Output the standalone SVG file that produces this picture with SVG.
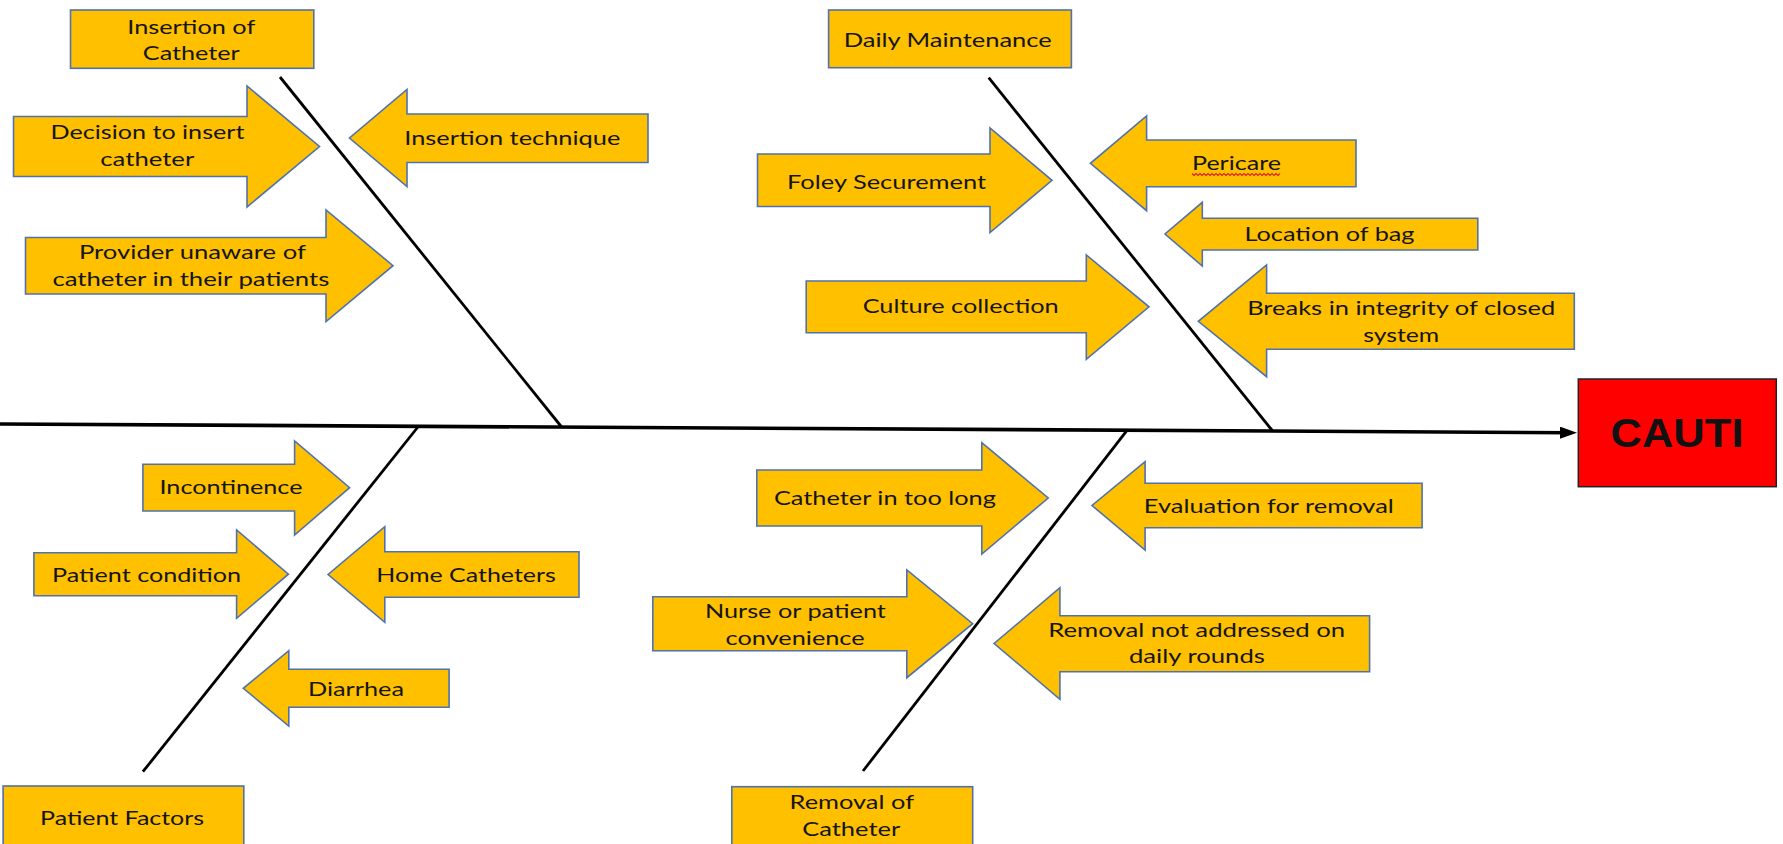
<svg xmlns="http://www.w3.org/2000/svg" width="1783" height="844" viewBox="0 0 1783 844">
<defs>
<style>
.box,.arr{fill:#FFC000;stroke:#4F72AD;stroke-width:1.6}
.head{fill:#FF0000;stroke:#222;stroke-width:1.5}
.t{font-family:Lato,"Open Sans",sans-serif;font-size:20px;fill:#151515;text-anchor:middle}
.big{font-family:"Liberation Sans",Arial,sans-serif;font-weight:bold;font-size:40px;fill:#111;text-anchor:middle}
.bone{stroke:#000;stroke-width:2.8;fill:none}
.spine{stroke:#000;stroke-width:3.6;fill:none}
.wave{stroke:#E02020;stroke-width:1.1;fill:none}
</style>
<marker id="ah" markerUnits="userSpaceOnUse" viewBox="0 0 17 12" markerWidth="17" markerHeight="12" refX="9" refY="6" orient="auto">
<path d="M0,0 L17,6 L0,12 z" fill="#000"/>
</marker>
</defs>
<rect width="1783" height="844" fill="#fff"/>

<g id="connectors">
<line class="spine" x1="0" y1="424" x2="1569" y2="432.7" marker-end="url(#ah)"/>
<line class="bone" x1="280" y1="77" x2="561.6" y2="427"/>
<line class="bone" x1="988.7" y1="77.7" x2="1272.7" y2="431"/>
<line class="bone" x1="418.3" y1="426.5" x2="142.9" y2="771.7"/>
<line class="bone" x1="1127.2" y1="430.2" x2="863" y2="771"/>
</g>

<g id="insertion-of-catheter">
<rect class="box" x="70.5" y="10" width="243.3" height="58.3"/>
<text class="t" x="191.3" y="33.5" textLength="128" lengthAdjust="spacingAndGlyphs">Insertion of</text>
<text class="t" x="191.3" y="60" textLength="97" lengthAdjust="spacingAndGlyphs">Catheter</text>
</g>

<g id="decision-to-insert">
<polygon class="arr" points="13.5,116.5 247,116.5 247,86 319.5,146.5 247,207 247,176.5 13.5,176.5"/>
<text class="t" x="147.5" y="139.3" textLength="194" lengthAdjust="spacingAndGlyphs">Decision to insert</text>
<text class="t" x="147.3" y="166" textLength="94" lengthAdjust="spacingAndGlyphs">catheter</text>
</g>

<g id="insertion-technique">
<polygon class="arr" points="648,114 407,114 407,89.5 349.5,138 407,186.5 407,162.5 648,162.5"/>
<text class="t" x="512.3" y="145" textLength="216" lengthAdjust="spacingAndGlyphs">Insertion technique</text>
</g>

<g id="provider-unaware">
<polygon class="arr" points="25.5,237.5 326,237.5 326,210 393,265.7 326,321.5 326,294 25.5,294"/>
<text class="t" x="192.4" y="259.3" textLength="227" lengthAdjust="spacingAndGlyphs">Provider unaware of</text>
<text class="t" x="190.9" y="286" textLength="277" lengthAdjust="spacingAndGlyphs">catheter in their patients</text>
</g>

<g id="daily-maintenance">
<rect class="box" x="828.6" y="10" width="242.8" height="57.7"/>
<text class="t" x="947.7" y="46.7" textLength="208" lengthAdjust="spacingAndGlyphs">Daily Maintenance</text>
</g>

<g id="foley-securement">
<polygon class="arr" points="757.5,154 990,154 990,128 1052,180.3 990,232.5 990,206.5 757.5,206.5"/>
<text class="t" x="886.6" y="189" textLength="199" lengthAdjust="spacingAndGlyphs">Foley Securement</text>
</g>

<g id="pericare">
<polygon class="arr" points="1356,140 1146.6,140 1146.6,116 1090.4,163.3 1146.6,210.7 1146.6,186.7 1356,186.7"/>
<text class="t" x="1236.5" y="170" textLength="89" lengthAdjust="spacingAndGlyphs">Pericare</text>
<path class="wave" d="M1192,173.5 l2,2 l2,-2 l2,2 l2,-2 l2,2 l2,-2 l2,2 l2,-2 l2,2 l2,-2 l2,2 l2,-2 l2,2 l2,-2 l2,2 l2,-2 l2,2 l2,-2 l2,2 l2,-2 l2,2 l2,-2 l2,2 l2,-2 l2,2 l2,-2 l2,2 l2,-2 l2,2 l2,-2 l2,2 l2,-2 l2,2 l2,-2 l2,2 l2,-2 l2,2 l2,-2 l2,2 l2,-2 l2,2 l2,-2 l2,2 l2,-2"/>
</g>

<g id="location-of-bag">
<polygon class="arr" points="1477.8,218.3 1202.3,218.3 1202.3,202.3 1165,234 1202.3,266 1202.3,250 1477.8,250"/>
<text class="t" x="1329.5" y="241" textLength="170" lengthAdjust="spacingAndGlyphs">Location of bag</text>
</g>

<g id="culture-collection">
<polygon class="arr" points="806.2,281 1086.3,281 1086.3,255 1149,306.8 1086.3,359.3 1086.3,332.7 806.2,332.7"/>
<text class="t" x="960.7" y="313.3" textLength="196" lengthAdjust="spacingAndGlyphs">Culture collection</text>
</g>

<g id="breaks-in-integrity">
<polygon class="arr" points="1574.3,293.3 1266.6,293.3 1266.6,265 1198.3,321.3 1266.6,376.7 1266.6,349.3 1574.3,349.3"/>
<text class="t" x="1401.2" y="315.3" textLength="308" lengthAdjust="spacingAndGlyphs">Breaks in integrity of closed</text>
<text class="t" x="1401.2" y="342" textLength="76" lengthAdjust="spacingAndGlyphs">system</text>
</g>

<g id="cauti">
<rect class="head" x="1578.3" y="379" width="198" height="107.7"/>
<text class="big" x="1677" y="447" textLength="133" lengthAdjust="spacingAndGlyphs">CAUTI</text>
</g>

<g id="incontinence">
<polygon class="arr" points="142.9,464.3 294.6,464.3 294.6,441 349.6,487.7 294.6,535 294.6,511 142.9,511"/>
<text class="t" x="231" y="494.3" textLength="143" lengthAdjust="spacingAndGlyphs">Incontinence</text>
</g>

<g id="patient-condition">
<polygon class="arr" points="33.9,552.7 236.6,552.7 236.6,530 288.4,574.2 236.6,618.3 236.6,595.7 33.9,595.7"/>
<text class="t" x="146.6" y="582.3" textLength="189" lengthAdjust="spacingAndGlyphs">Patient condition</text>
</g>

<g id="home-catheters">
<polygon class="arr" points="579,551.7 384.8,551.7 384.8,526.7 328.1,574.5 384.8,622.3 384.8,597.3 579,597.3"/>
<text class="t" x="466" y="582.3" textLength="179.5" lengthAdjust="spacingAndGlyphs">Home Catheters</text>
</g>

<g id="diarrhea">
<polygon class="arr" points="449.1,669.3 288.8,669.3 288.8,650.7 243.3,688.3 288.8,726 288.8,707.3 449.1,707.3"/>
<text class="t" x="356" y="695.7" textLength="96" lengthAdjust="spacingAndGlyphs">Diarrhea</text>
</g>

<g id="patient-factors">
<rect class="box" x="3.1" y="786" width="240.7" height="70"/>
<text class="t" x="122.1" y="825" textLength="164" lengthAdjust="spacingAndGlyphs">Patient Factors</text>
</g>

<g id="catheter-in-too-long">
<polygon class="arr" points="756.8,470 981.8,470 981.8,442.7 1048.2,498 981.8,554 981.8,526 756.8,526"/>
<text class="t" x="884.9" y="505.3" textLength="222" lengthAdjust="spacingAndGlyphs">Catheter in too long</text>
</g>

<g id="evaluation-for-removal">
<polygon class="arr" points="1422.1,483.3 1145.1,483.3 1145.1,461.7 1092,505.5 1145.1,550 1145.1,527.7 1422.1,527.7"/>
<text class="t" x="1268.8" y="513.3" textLength="250" lengthAdjust="spacingAndGlyphs">Evaluation for removal</text>
</g>

<g id="nurse-or-patient-convenience">
<polygon class="arr" points="652.8,596.7 906.8,596.7 906.8,570 972.7,623.7 906.8,677.7 906.8,650.7 652.8,650.7"/>
<text class="t" x="795.4" y="618.3" textLength="181" lengthAdjust="spacingAndGlyphs">Nurse or patient</text>
<text class="t" x="795.1" y="645" textLength="139" lengthAdjust="spacingAndGlyphs">convenience</text>
</g>

<g id="removal-not-addressed">
<polygon class="arr" points="1369.6,615.7 1059.9,615.7 1059.9,587.7 994.1,643.5 1059.9,699.3 1059.9,671.7 1369.6,671.7"/>
<text class="t" x="1196.7" y="636.7" textLength="297" lengthAdjust="spacingAndGlyphs">Removal not addressed on</text>
<text class="t" x="1196.9" y="663.3" textLength="136" lengthAdjust="spacingAndGlyphs">daily rounds</text>
</g>

<g id="removal-of-catheter">
<rect class="box" x="731.8" y="786.7" width="240.9" height="70"/>
<text class="t" x="851.8" y="809.3" textLength="124.5" lengthAdjust="spacingAndGlyphs">Removal of</text>
<text class="t" x="851.2" y="836" textLength="98" lengthAdjust="spacingAndGlyphs">Catheter</text>
</g>
</svg>
